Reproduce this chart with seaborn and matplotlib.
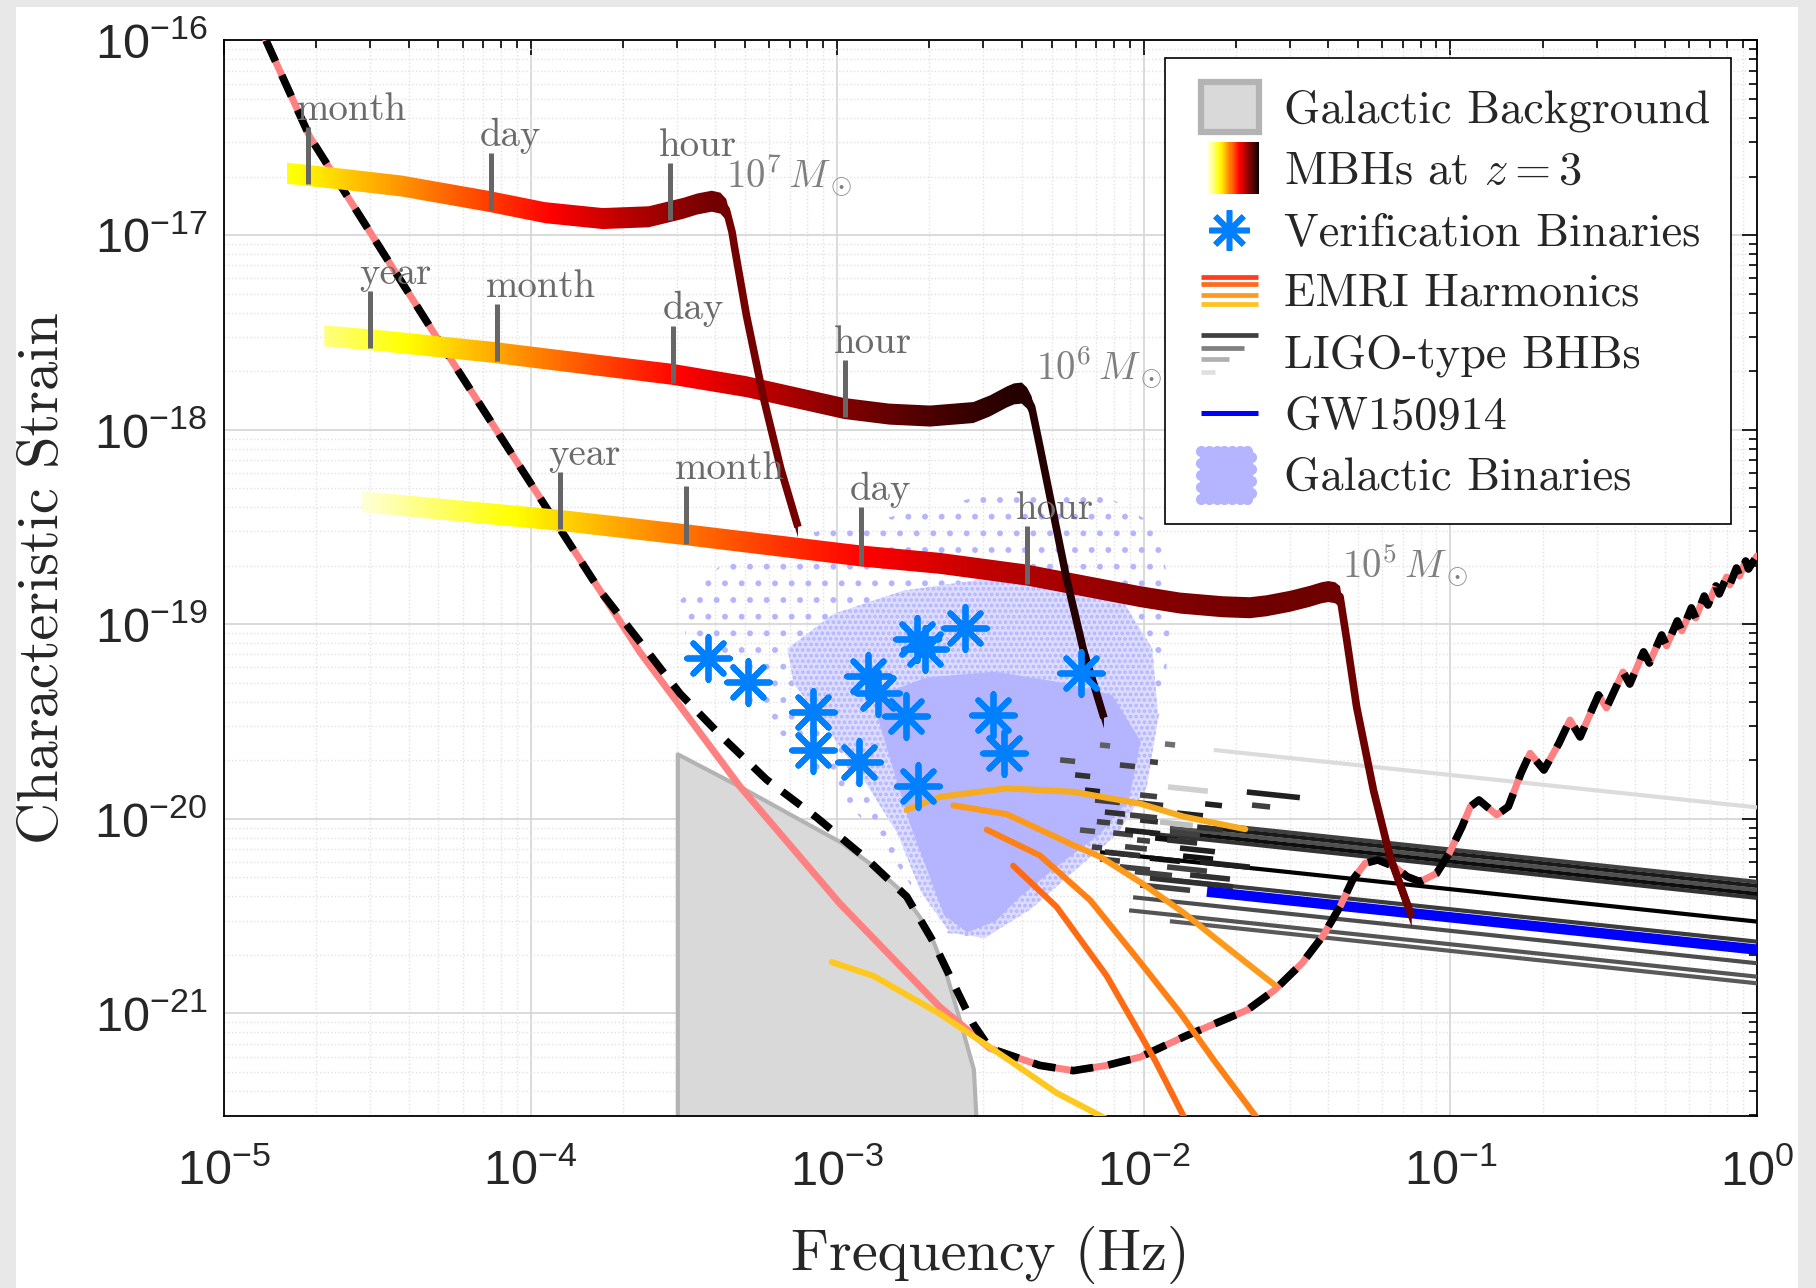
import numpy as np
import matplotlib
matplotlib.use("Agg")
import matplotlib.pyplot as plt
import seaborn as sns
from matplotlib.patches import Polygon, Rectangle
from matplotlib.lines import Line2D
from matplotlib.legend_handler import HandlerBase
from matplotlib.ticker import LogLocator, NullFormatter

sns.set_theme(style="white")
plt.rcParams['font.family'] = ['Liberation Sans', 'DejaVu Sans']
plt.rcParams['mathtext.fontset'] = 'cm'
plt.rcParams['axes.formatter.use_mathtext'] = True
plt.rcParams['hatch.linewidth'] = 1.8
SERIF = 'cmr10'

# all values: log10(f / Hz), log10(h_c)
# LISA sensitivity (instrument only)
sens_logf = [-4.863, -4.720, -4.309, -3.904, -3.643, -3.317, -2.991, -2.665, -2.502, -2.339,
             -2.230, -2.121, -2.012, -1.868, -1.662, -1.573, -1.484, -1.416, -1.360, -1.319,
             -1.278, -1.237, -1.182, -1.141, -1.099, -1.045, -1.004, -0.962, -0.935, -0.907,
             -0.849, -0.811, -0.770, -0.740, -0.695, -0.646, -0.610, -0.577, -0.517, -0.491,
             -0.437, -0.415, -0.370, -0.351, -0.311, -0.295, -0.260, -0.245, -0.214, -0.200,
             -0.172, -0.160, -0.134, -0.123, -0.099, -0.089, -0.067, -0.057, -0.037, -0.028, 0.0]
sens_logh = [-16.000, -16.496, -17.519, -18.510, -19.144, -19.834, -20.436, -20.967, -21.179, -21.267,
             -21.294, -21.267, -21.224, -21.119, -20.982, -20.879, -20.742, -20.602, -20.451, -20.314,
             -20.228, -20.211, -20.246, -20.297, -20.323, -20.280, -20.177, -20.040, -19.937, -19.903,
             -19.980, -19.937, -19.766, -19.663, -19.749, -19.612, -19.492, -19.579, -19.363, -19.430,
             -19.245, -19.307, -19.142, -19.199, -19.055, -19.111, -18.983, -19.034, -18.916, -18.968,
             -18.855, -18.901, -18.803, -18.844, -18.757, -18.798, -18.711, -18.752, -18.675, -18.716, -18.649]
# part where the galactic confusion noise lifts the curve
conf_logf = [-3.774, -3.643, -3.513, -3.371, -3.230, -3.067, -2.904, -2.773, -2.687, -2.600, -2.556]
conf_logh = [-18.827, -19.091, -19.356, -19.586, -19.799, -19.993, -20.206, -20.400, -20.631, -20.914, -21.055]

# galactic background (grey region)
galbg_logf = [-3.5215, -3.317, -3.154, -2.991, -2.882, -2.795, -2.730, -2.687, -2.643, -2.600, -2.556, -2.540]
galbg_logh = [-19.666, -19.834, -19.976, -20.117, -20.241, -20.365, -20.507, -20.631, -20.807, -21.038, -21.285, -21.750]

# galactic binaries cloud outlines (sparse halo, medium, dense core)
gbs_logf = [-3.521, -3.388, -3.086, -2.708, -2.406, -2.142, -1.953, -1.908, -1.934, -1.991, -2.085, -2.236,
            -2.406, -2.539, -2.652, -2.746, -2.860, -3.011, -3.162, -3.351, -3.494]
gbs_logh = [-18.887, -18.708, -18.530, -18.411, -18.291, -18.321, -18.500, -18.887, -19.363, -19.720, -19.988, -20.226,
            -20.464, -20.613, -20.583, -20.375, -20.107, -19.839, -19.601, -19.303, -19.053]
gbm_logf = [-3.162, -3.011, -2.784, -2.520, -2.255, -2.066, -1.972, -1.953, -1.991, -2.085, -2.218, -2.369,
            -2.520, -2.633, -2.727, -2.803, -2.897, -3.030, -3.143]
gbm_logh = [-19.125, -18.946, -18.827, -18.768, -18.798, -18.887, -19.125, -19.482, -19.839, -20.077, -20.256, -20.464,
            -20.613, -20.583, -20.375, -20.077, -19.839, -19.542, -19.303]
gbc_logf = [-2.860, -2.708, -2.482, -2.255, -2.104, -2.010, -2.048, -2.142, -2.293, -2.406, -2.482, -2.576,
            -2.652, -2.708, -2.765, -2.822, -2.867]
gbc_logh = [-19.363, -19.273, -19.244, -19.303, -19.363, -19.601, -19.899, -20.077, -20.256, -20.404, -20.524, -20.583,
            -20.494, -20.256, -20.017, -19.720, -19.482]

# verification binaries
vb_logf = [-3.422, -3.290, -3.078, -3.078, -2.929, -2.901, -2.868, -2.777, -2.738, -2.741, -2.714, -2.583, -2.491, -2.455, -2.206]
vb_logh = [-19.174, -19.296, -19.450, -19.645, -19.710, -19.264, -19.351, -19.471, -19.830, -19.077, -19.126, -19.020, -19.466, -19.661, -19.250]

# massive black hole binaries at z = 3
mbh7_logf = [-4.795, -4.607, -4.420, -4.139, -3.952, -3.765, -3.615, -3.503, -3.456, -3.409, -3.381, -3.362,
             -3.343, -3.334, -3.296, -3.240, -3.184, -3.128]
mbh7_logh = [-16.682, -16.714, -16.748, -16.826, -16.885, -16.915, -16.906, -16.863, -16.840, -16.826, -16.836, -16.868,
             -16.984, -17.071, -17.413, -17.839, -18.201, -18.500]
mbh6_logf = [-4.673, -4.514, -4.120, -3.765, -3.540, -3.296, -2.978, -2.830, -2.697, -2.556, -2.502, -2.447, -2.423,
             -2.398, -2.381, -2.366, -2.339, -2.306, -2.251, -2.197, -2.130]
mbh6_logh = [-17.518, -17.539, -17.603, -17.672, -17.715, -17.779, -17.891, -17.920, -17.930, -17.912, -17.878, -17.832, -17.816,
             -17.812, -17.837, -17.882, -18.087, -18.344, -18.772, -19.132, -19.481]
mbh5_logf = [-4.551, -3.905, -3.493, -2.922, -2.665, -2.382, -2.012, -1.882, -1.742, -1.654, -1.600, -1.523, -1.460,
             -1.420, -1.398, -1.376, -1.360, -1.338, -1.306, -1.251, -1.197, -1.126]
mbh5_logh = [-18.370, -18.466, -18.540, -18.649, -18.687, -18.747, -18.858, -18.891, -18.910, -18.915, -18.905, -18.882, -18.857,
             -18.838, -18.832, -18.838, -18.858, -19.081, -19.423, -19.852, -20.194, -20.503]
mbh_peak = [9, 13, 14]
mbh_names = [r'$10^7\,M_\odot$', r'$10^6\,M_\odot$', r'$10^5\,M_\odot$']

# time-to-merger ticks on the tracks
mark_logf = [-4.726, -4.129, -3.544, -4.524, -4.111, -3.534, -2.973, -3.905, -3.493, -2.922, -2.382]
mark_logh = [-16.694, -16.827, -16.879, -17.537, -17.604, -17.716, -17.892, -18.466, -18.540, -18.649, -18.747]
mark_text = ['month', 'day', 'hour', 'year', 'month', 'day', 'hour', 'year', 'month', 'day', 'hour']

# EMRI harmonics
emri_a_logf = [-2.773, -2.665, -2.447, -2.230, -2.012, -1.869, -1.669]
emri_a_logh = [-19.954, -19.887, -19.843, -19.861, -19.922, -19.989, -20.053]
emri_b_logf = [-2.621, -2.447, -2.230, -2.143, -2.006, -1.869, -1.732, -1.573]
emri_b_logh = [-19.931, -19.976, -20.135, -20.194, -20.331, -20.484, -20.657, -20.854]
emri_c_logf = [-2.512, -2.339, -2.175, -2.012, -1.880, -1.772, -1.620]
emri_c_logh = [-20.056, -20.188, -20.418, -20.736, -21.000, -21.239, -21.560]
emri_d_logf = [-2.426, -2.284, -2.121, -1.964, -1.860]
emri_d_logh = [-20.241, -20.453, -20.807, -21.239, -21.560]
emri_e_logf = [-3.018, -2.882, -2.665, -2.447, -2.284, -2.100]
emri_e_logh = [-20.736, -20.807, -21.002, -21.232, -21.409, -21.560]

# LIGO-type BHBs: start frequency, start strain, strain at 1 Hz
ligo_start_logf = [-1.772, -1.719, -1.817, -1.915, -1.849, -1.980, -2.143, -1.947, -2.035, -2.048, -1.915]
ligo_start_logh = [-19.646, -20.038, -20.042, -20.046, -20.078, -20.076, -20.171, -20.307, -20.403, -20.470, -20.526]
ligo_end_logh = [-19.941, -20.324, -20.345, -20.365, -20.386, -20.406, -20.528, -20.631, -20.742, -20.811, -20.845]
ligo_grey = ['#dcdcdc', '#404040', '#1a1a1a', '#505050', '#0d0d0d', '#333333', '#000000', '#3c3c3c', '#4d4d4d', '#555555', '#5a5a5a']
# short LIGO-type tracks
short_logf1 = [-1.931, -1.980, -1.921, -1.664, -1.800, -1.647, -2.012, -2.022, -1.892, -1.947, -2.012, -2.045, -2.153, -2.087,
               -2.100, -2.022, -1.963, -1.924, -1.826, -2.061, -2.169, -2.143, -1.980, -1.924, -2.078, -1.980, -2.029, -1.872,
               -2.224, -2.192, -2.159, -2.127, -2.208, -2.061, -1.915, -2.127, -1.882, -2.012, -2.273, -2.143, -2.078,
               -1.849, -1.817]
short_logf2 = [-1.898, -1.954, -1.791, -1.491, -1.745, -1.588, -1.957, -1.937, -1.807, -1.840, -1.954, -1.957, -2.110, -2.068,
               -2.035, -1.980, -1.888, -1.826, -1.742, -1.990, -2.136, -2.078, -1.882, -1.794, -1.980, -1.709, -1.908, -1.774,
               -2.175, -2.143, -2.078, -2.061, -2.159, -1.947, -1.817, -2.012, -1.768, -1.849, -2.224, -2.110, -2.029,
               -1.719, -1.654]
short_logh = [-19.615, -19.706, -19.836, -19.862, -19.923, -19.929, -19.877, -19.917, -19.970, -20.016, -20.006, -19.980, -20.014, -20.014,
              -20.072, -20.108, -20.098, -20.108, -20.042, -20.143, -20.144, -20.206, -20.202, -20.247, -20.246, -20.304, -20.271, -20.191,
              -19.774, -19.852, -19.903, -19.965, -20.057, -20.057, -20.067, -20.170, -20.150, -20.340, -19.697, -19.620, -19.723,
              -20.288, -20.221]
short_grey = ['#707070', '#404040', '#d0d0d0', '#202020', '#202020', '#404040', '#404040', '#303030', '#202020', '#c0c0c0', '#303030',
              '#404040', '#404040', '#505050', '#404040', '#404040', '#101010', '#303030', '#303030', '#404040', '#404040', '#404040',
              '#101010', '#404040', '#404040', '#303030', '#404040', '#101010',
              '#303030', '#202020', '#404040', '#303030', '#505050', '#202020', '#404040', '#303030', '#202020', '#404040',
              '#505050', '#606060', '#404040', '#303030', '#202020']
# GW150914
gw_logf = [-1.794, 0.0]
gw_logh = [-20.374, -20.672]


def P(a):
    return 10.0 ** np.asarray(a, dtype=float)


fig = plt.figure(figsize=(18.16, 12.88), dpi=100)
fig.patch.set_facecolor('#e8e8e8')
fig.add_artist(Rectangle((16 / 1816, 0), 1782 / 1816, 1 - 7 / 1288, transform=fig.transFigure,
                         facecolor='white', edgecolor='none', zorder=-10))
ax = fig.add_axes([0.12335, 0.13354, 0.84416, 0.83502])
ax.set_xscale('log')
ax.set_yscale('log')
ax.set_xlim(1e-5, 1)
ax.set_ylim(10 ** -21.527, 1e-16)
ax.set_autoscale_on(False)

# galactic background
ax.fill_between(P(galbg_logf), P(galbg_logh), 1e-23, facecolor='#d9d9d9', edgecolor='#b3b3b3', lw=3, zorder=1.5)

# galactic binaries
ax.fill(P(gbs_logf), P(gbs_logh), facecolor='none', edgecolor='#b4b4ff', hatch='.', lw=0, zorder=2)
ax.fill(P(gbm_logf), P(gbm_logh), facecolor='#dcdcff', edgecolor='#b4b4ff', hatch='...', lw=0, zorder=2.1)
ax.fill(P(gbc_logf), P(gbc_logh), facecolor='#b4b4ff', edgecolor='none', lw=0, zorder=2.2)

# LIGO-type
for lf0, lh0, lh1, c in zip(ligo_start_logf, ligo_start_logh, ligo_end_logh, ligo_grey):
    ax.plot(P([lf0, 0.0]), P([lh0, lh1]), color=c, lw=3.0, solid_capstyle='butt', zorder=3)
for lf1, lf2, lh, c in zip(short_logf1, short_logf2, short_logh, short_grey):
    ax.plot(P([lf1, lf2]), P([lh, lh - (lf2 - lf1) / 6.0]), color=c, lw=4.0, solid_capstyle='butt', zorder=3)
ax.plot(P(gw_logf), P(gw_logh), color='#0000ff', lw=7.5, solid_capstyle='butt', zorder=3.5)

# sensitivity curves
dash_logf = sens_logf[:4] + conf_logf + sens_logf[8:]
dash_logh = sens_logh[:4] + conf_logh + sens_logh[8:]
sns.lineplot(x=P(sens_logf), y=P(sens_logh), color='#ff8080', linewidth=5.0, estimator=None, sort=False, ax=ax, zorder=5)
sns.lineplot(x=P(dash_logf), y=P(dash_logh), color='black', linewidth=5.5, linestyle=(0, (3.0, 2.0)),
             estimator=None, sort=False, ax=ax, zorder=5.5)

# EMRI harmonics
emri = [(emri_a_logf, emri_a_logh, '#f7ab1e'), (emri_b_logf, emri_b_logh, '#fd9a1c'),
        (emri_c_logf, emri_c_logh, '#ff8014'), (emri_d_logf, emri_d_logh, '#ff6a14'),
        (emri_e_logf, emri_e_logh, '#ffc81e')]
for lf, lh, c in emri:
    sns.lineplot(x=P(lf), y=P(lh), color=c, linewidth=4.4, estimator=None, sort=False, ax=ax, zorder=6)

# verification binaries
sns.scatterplot(x=P(vb_logf), y=P(vb_logh), marker=(8, 2, 0), s=950, color='#0080ff',
                edgecolor='#0080ff', linewidth=4.2, ax=ax, zorder=9)

# MBH tracks: gradient band clipped to the track
cmap = plt.get_cmap('hot_r')
grad = [(0.24, 0.84, 1.1), (0.13, 0.96, 1.3), (0.04, 0.85, 1.8)]
mbh = [(mbh7_logf, mbh7_logh), (mbh6_logf, mbh6_logh), (mbh5_logf, mbh5_logh)]
half = 0.054
for (lf, lh), ipk, (v0, v1, gam), name in zip(mbh, mbh_peak, grad, mbh_names):
    lf = np.asarray(lf)
    lh = np.asarray(lh)
    vx = np.r_[lf, lf[::-1]]
    vy = np.r_[lh + half, (lh - half)[::-1]]
    poly = Polygon(np.column_stack([P(vx), P(vy)]), closed=True, transform=ax.transData)
    xs = np.linspace(lf[0], lf[-1], 600)
    t = np.clip((xs - lf[0]) / (lf[ipk] - lf[0]), 0, 1)
    v = v0 + (v1 - v0) * (1 - (1 - t) ** gam)
    im = ax.imshow(v[None, :], extent=[(lf[0] + 5) / 5, (lf[-1] + 5) / 5, 0, 1], transform=ax.transAxes,
                   cmap='hot_r', vmin=0, vmax=1, aspect='auto', interpolation='bilinear', zorder=7)
    im.set_clip_path(poly)
    ax.plot(P(lf[ipk + 1:]), P(lh[ipk + 1:]), color=cmap(v1), lw=5.5, solid_capstyle='butt',
            solid_joinstyle='round', zorder=7.2)
    ax.annotate(name, xy=(P(lf[ipk]), P(lh[ipk])), xytext=(10, 10), textcoords='offset points',
                ha='left', va='baseline', fontsize=28, color='#808080', zorder=8)

for lf, lh, lab in zip(mark_logf, mark_logh, mark_text):
    ax.plot(P([lf, lf]), P([lh - 0.045, lh + 0.25]), color='#666666', lw=3.6, solid_capstyle='butt', zorder=8)
    ax.annotate(lab, xy=(P(lf), P(lh + 0.25)), xytext=(-8, 5), textcoords='offset points',
                ha='left', va='baseline', fontsize=28, color='#6b6b6b', family=SERIF, zorder=8)

# axes styling
ax.set_xticks([1e-5, 1e-4, 1e-3, 1e-2, 1e-1, 1e0])
ax.set_yticks([1e-21, 1e-20, 1e-19, 1e-18, 1e-17, 1e-16])
ax.xaxis.set_minor_locator(LogLocator(base=10, subs=np.arange(2, 10), numticks=100))
ax.yaxis.set_minor_locator(LogLocator(base=10, subs=np.arange(2, 10), numticks=100))
ax.xaxis.set_minor_formatter(NullFormatter())
ax.yaxis.set_minor_formatter(NullFormatter())
ax.set_xlim(1e-5, 1)
ax.set_ylim(10 ** -21.527, 1e-16)
ax.tick_params(which='both', direction='in', top=True, right=True, color='black', width=1.2)
ax.tick_params(which='major', length=11, labelsize=35)
ax.tick_params(which='minor', length=5.5)
ax.tick_params(axis='x', which='major', pad=24)
ax.tick_params(axis='y', which='major', pad=12)
ax.grid(True, which='major', color='#d8d8d8', lw=1.3, ls='-')
ax.grid(True, which='minor', color='#e2e2e2', lw=1.0, ls=':')
ax.set_axisbelow(True)
for s in ax.spines.values():
    s.set_color('black')
    s.set_linewidth(1.3)
ax.set_xlabel('Frequency (Hz)', family=SERIF, fontsize=42, labelpad=22)
ax.set_ylabel('Characteristic Strain', family=SERIF, fontsize=42, labelpad=18)


# legend: every glyph is drawn in the right-hand 82 % of the handle box
L0, LW = 0.17, 0.81


class StripeHandler(HandlerBase):
    def create_artists(self, legend, orig_handle, xdescent, ydescent, width, height, fontsize, trans):
        n = 48
        x0 = -xdescent + (L0 + 0.1) * width
        w = (LW - 0.1) * width
        y0 = -ydescent + 0.04 * height
        return [Rectangle((x0 + i * w / n, y0), w / n * 1.05, 0.92 * height, facecolor=cmap(i / (n - 1)),
                          edgecolor='none', transform=trans) for i in range(n)]


class StackHandler(HandlerBase):
    def __init__(self, colors, yfrac, lfrac, lw):
        super().__init__()
        self.colors, self.yfrac, self.lfrac, self.lw = colors, yfrac, lfrac, lw

    def create_artists(self, legend, orig_handle, xdescent, ydescent, width, height, fontsize, trans):
        x0 = -xdescent + (L0 + 0.03) * width
        w = (LW - 0.05) * width
        return [Line2D([x0, x0 + lf * w], [-ydescent + yf * height] * 2, color=c, lw=self.lw,
                       solid_capstyle='butt', transform=trans)
                for c, yf, lf in zip(self.colors, self.yfrac, self.lfrac)]


class DotsHandler(HandlerBase):
    def create_artists(self, legend, orig_handle, xdescent, ydescent, width, height, fontsize, trans):
        xs, ys = [], []
        for i in range(7):
            for j in range(9):
                xs.append(-xdescent + (L0 + 0.04 + (LW - 0.1) * (i + 0.5 * (j % 2)) / 7.0) * width)
                ys.append(-ydescent + (0.06 + 0.86 * j / 8.0) * height)
        return [Line2D(xs, ys, ls='none', marker='o', ms=7, mfc='#b4b4ff', mec='#b4b4ff', transform=trans)]


class BoxHandler(HandlerBase):
    def create_artists(self, legend, orig_handle, xdescent, ydescent, width, height, fontsize, trans):
        return [Rectangle((-xdescent + (L0 + 0.03) * width, -ydescent + 0.06 * height), (LW - 0.04) * width,
                          0.88 * height, facecolor='#d9d9d9', edgecolor='#b3b3b3', lw=4.5, transform=trans)]


class StarHandler(HandlerBase):
    def create_artists(self, legend, orig_handle, xdescent, ydescent, width, height, fontsize, trans):
        return [Line2D([-xdescent + (L0 + LW / 2) * width], [-ydescent + 0.5 * height], ls='none',
                       marker=(8, 2, 0), ms=29, mew=4, color='#0080ff', transform=trans)]


class BlueHandler(HandlerBase):
    def create_artists(self, legend, orig_handle, xdescent, ydescent, width, height, fontsize, trans):
        x0 = -xdescent + (L0 + 0.03) * width
        return [Line2D([x0, x0 + (LW - 0.05) * width], [-ydescent + 0.5 * height] * 2, color='#0000ff',
                       lw=3.6, solid_capstyle='butt', transform=trans)]


h_gbg, h_mbh, h_vb, h_emri, h_ligo, h_gw, h_gb = [Rectangle((0, 0), 1, 1) for _ in range(7)]
handles = [h_gbg, h_mbh, h_vb, h_emri, h_ligo, h_gw, h_gb]
labels = ['Galactic Background', r'MBHs at $z = 3$', 'Verification Binaries', 'EMRI Harmonics',
          'LIGO-type BHBs', 'GW150914', 'Galactic Binaries']
hmap = {h_gbg: BoxHandler(), h_mbh: StripeHandler(), h_vb: StarHandler(), h_gw: BlueHandler(),
        h_emri: StackHandler(['#ff3c1e', '#ff6a1e', '#ff9a1e', '#ffc21e'], [0.74, 0.62, 0.42, 0.26], [1, 1, 1, 1], 3.4),
        h_ligo: StackHandler(['#404040', '#808080', '#b0b0b0', '#e0e0e0'], [0.80, 0.58, 0.37, 0.15], [1, 0.75, 0.5, 0.25], 3.4),
        h_gb: DotsHandler()}
leg = ax.legend(handles, labels, handler_map=hmap, loc='upper right', bbox_to_anchor=(0.98304, 0.98373),
                borderaxespad=0, prop={'family': SERIF, 'size': 33.4}, frameon=True, fancybox=False,
                edgecolor='black', framealpha=1, handlelength=1.62, handleheight=1.5,
                handletextpad=0.5, labelspacing=0.1, borderpad=0.45)
leg.get_frame().set_linewidth(1.2)
leg.set_zorder(20)

fig.savefig('out.png', dpi=100, facecolor=fig.get_facecolor())
